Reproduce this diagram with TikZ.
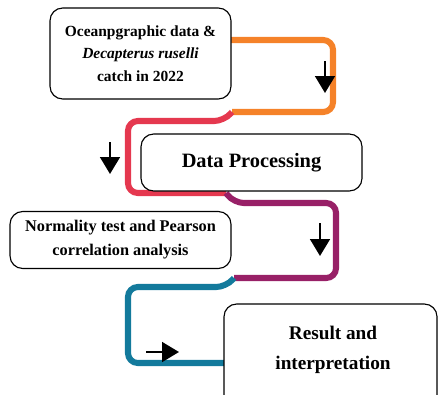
\documentclass[tikz,border=0pt]{standalone}
\usepackage{fontspec}
\setmainfont{Liberation Serif}
\usetikzlibrary{arrows.meta}
\definecolor{flowOrange}{HTML}{F58229}
\definecolor{flowRed}{HTML}{E5384F}
\definecolor{flowPurple}{HTML}{982067}
\definecolor{flowBlue}{HTML}{137A9C}
\tikzset{
  stagebox/.style={draw, line width=0.8pt, rounded corners=9pt, fill=white,
    align=center, font=\bfseries, inner sep=0pt},
  flowline/.style={line width=4.3pt, rounded corners=7pt, line cap=butt},
  bigarrow/.style={line width=1.6pt, -{Triangle[length=12pt,width=14pt]}},
}
\begin{document}
\begin{tikzpicture}[x=0.025cm,y=-0.025cm]
\useasboundingbox (0,0) rectangle (438,394);
\clip (0,0) rectangle (438,394);

% colour bands behind the boxes
\draw[flowline,flowOrange] (200,40) -- (333,40) -- (333,112) -- (232,112);
\draw[flowline,flowRed]    (232,112) -- (224,121) -- (128,121) -- (128,193) -- (226,193);
\draw[flowline,flowPurple] (226,193) -- (234,203) -- (336,203) -- (336,278) -- (234,278);
\draw[flowline,flowBlue]   (234,278) -- (226,287) -- (128,287) -- (128,363) -- (240,363);

% stages
\node[stagebox, minimum width=181*0.025cm, minimum height=91*0.025cm, font=\bfseries\fontsize{11}{16}\selectfont]
  (data) at (140.5,53.5) {Oceanpgraphic data \&\\\textit{Decapterus ruselli}\\catch in 2022};
\node[stagebox, minimum width=221*0.025cm, minimum height=57*0.025cm, font=\bfseries\fontsize{14.5}{17}\selectfont]
  (proc) at (251.5,162.5) {Data Processing};
\node[stagebox, minimum width=221*0.025cm, minimum height=57*0.025cm, font=\bfseries\fontsize{11.6}{17}\selectfont]
  (stat) at (120.5,240) {Normality test and Pearson\\correlation analysis};
\node[stagebox, minimum width=213*0.025cm, minimum height=110*0.025cm]
  (res) at (330.5,359) {};
\node[font=\bfseries\fontsize{13.7}{21}\selectfont, align=center] (restxt) at (333,350) {Result and\\interpretation};

% direction marks
\coordinate (a1s) at (325,61);  \coordinate (a1e) at (325,93);
\coordinate (a2s) at (110,142); \coordinate (a2e) at (110,174);
\coordinate (a3s) at (320,223); \coordinate (a3e) at (320,256);
\coordinate (a4s) at (146,352); \coordinate (a4e) at (179,352);
\draw[bigarrow] (a1s) -- (a1e);
\draw[bigarrow] (a2s) -- (a2e);
\draw[bigarrow] (a3s) -- (a3e);
\draw[bigarrow] (a4s) -- (a4e);
\end{tikzpicture}
\end{document}
